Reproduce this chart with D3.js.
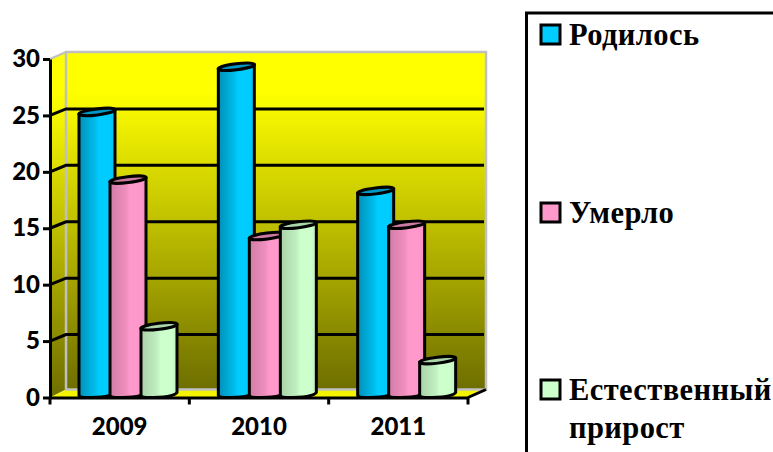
<!DOCTYPE html>
<html>
<head>
<meta charset="utf-8">
<script src="https://cdn.jsdelivr.net/npm/d3@7"></script>
<style>
  html, body { margin: 0; padding: 0; background: #fff; overflow: hidden; }
  svg { display: block; }
</style>
</head>
<body>
<svg id="chart" width="773" height="452"></svg>
<script>
const years = ['2009', '2010', '2011'];
const born = [25, 29, 18];
const died = [19, 14, 15];
const growth = [6, 15, 3];
const seriesNames = ['Родилось', 'Умерло', 'Естественный'];
const yTicks = [0, 5, 10, 15, 20, 25, 30];
const gridTicks = [5, 10, 15, 20, 25];

const seriesValues = [born, died, growth];
const barColors = [
  { id: 'blue', dark: '#0090b8', mid: '#00bdec', light: '#00ccff', cap: '#0099c4' },
  { id: 'pink', dark: '#d07ca6', mid: '#f08fbf', light: '#ff99cc', cap: '#cc7aa3' },
  { id: 'green', dark: '#a9d2a9', mid: '#c0efc0', light: '#ccffcc', cap: '#aad4aa' }
];

const svg = d3.select('#chart');
const defs = svg.append('defs');

const depthX = 16, depthY = 8;
const y = d3.scaleLinear().domain([0, 30]).range([397.5, 59]);
const x = d3.scaleBand().domain(years).range([50, 468]);
const xSeries = d3.scaleBand().domain(d3.range(3)).range([29, 122]);
const barW = 36;
const strokeW = 3;

const wallGrad = defs.append('linearGradient').attr('id', 'wall')
  .attr('x1', 0).attr('y1', 0).attr('x2', 0).attr('y2', 1);
wallGrad.append('stop').attr('offset', '0').attr('stop-color', '#ffff00');
wallGrad.append('stop').attr('offset', '0.12').attr('stop-color', '#ffff00');
wallGrad.append('stop').attr('offset', '1').attr('stop-color', '#6e6e00');

barColors.forEach(c => {
  const g = defs.append('linearGradient').attr('id', c.id);
  [[0, c.dark], [0.45, c.mid], [0.55, c.light], [0.86, c.light], [1, c.mid]].forEach(s =>
    g.append('stop').attr('offset', s[0]).attr('stop-color', s[1]));
});

// walls and floor
const xLeft = x.range()[0], xRight = x.range()[1];
const yTop = y(30), yBase = y(0);

svg.append('path')
  .attr('d', `M${xLeft},${yTop}L${xLeft + depthX},${yTop - depthY + 1}V${yBase - depthY}L${xLeft},${yBase}Z`)
  .attr('fill', 'url(#wall)');
svg.append('path')
  .attr('d', `M${xLeft},${yBase}L${xLeft + depthX},${yBase - depthY}H${xRight + depthX + 2}L${xRight},${yBase}Z`)
  .attr('fill', '#f4f400');
svg.append('rect')
  .attr('x', xLeft + depthX).attr('y', yTop - depthY + 1)
  .attr('width', xRight - xLeft + 2).attr('height', yBase - yTop - 1)
  .attr('fill', 'url(#wall)')
  .attr('stroke', '#c0c0c0').attr('stroke-width', 2.5);
svg.append('path')
  .attr('d', `M${xLeft},${yTop}L${xLeft + depthX},${yTop - depthY + 1}`)
  .attr('stroke', '#c0c0c0').attr('stroke-width', 2).attr('fill', 'none');

// gridlines
const grid = svg.append('g').attr('fill', 'none').attr('stroke', '#000').attr('stroke-width', strokeW);
gridTicks.forEach(t => {
  const gy = y(t);
  grid.append('path')
    .attr('d', `M${xLeft},${gy}L${xLeft + depthX},${gy - depthY + 1.5}H${xRight + depthX}`);
});

// axes
const axisY = svg.append('g')
  .attr('transform', `translate(${xLeft},0)`)
  .call(d3.axisLeft(y).tickValues(yTicks).tickSize(7).tickSizeOuter(0).tickPadding(3));
const axisX = svg.append('g')
  .attr('transform', `translate(0,${yBase})`)
  .call(d3.axisBottom(x).tickSize(0).tickSizeOuter(0).tickPadding(20));
[axisY, axisX].forEach(a => {
  a.selectAll('path,line').attr('stroke', '#000').attr('stroke-width', strokeW);
  a.selectAll('text')
    .attr('fill', '#000')
    .style('font-family', 'Lato, sans-serif')
    .style('font-weight', 900)
    .style('font-size', '24px');
});

// x ticks sit between the categories
const xTickPos = years.map(d => x(d)).concat(xRight);
svg.append('g').selectAll('line').data(xTickPos).join('line')
  .attr('x1', d => d).attr('x2', d => d)
  .attr('y1', yBase).attr('y2', yBase + 7)
  .attr('stroke', '#000').attr('stroke-width', strokeW);
svg.append('path')
  .attr('d', `M${xRight},${yBase}L${xRight + depthX + 2},${yBase - depthY}`)
  .attr('stroke', '#000').attr('stroke-width', strokeW).attr('fill', 'none');

// cylinders
const rows = years.flatMap((yr, i) => seriesValues.map((vals, s) => ({ yr, s, v: vals[i] })))
  .sort((a, b) => d3.ascending(a.yr, b.yr) || d3.ascending(a.s, b.s));
const bar = svg.append('g').selectAll('g').data(rows).join('g')
  .attr('stroke', '#000').attr('stroke-width', strokeW).attr('stroke-linejoin', 'round');
bar.append('path')
  .attr('fill', d => `url(#${barColors[d.s].id})`)
  .attr('d', d => {
    const l = x(d.yr) + xSeries(d.s), r = l + barW;
    return `M${l},${y(d.v) - 1.5}V${yBase - 2}Q${l + 1},${yBase} ${l + 6},${yBase}` +
      `Q${r - 3},${yBase} ${r},${yBase - 5}V${y(d.v) - 5.5}Z`;
  });
bar.append('ellipse')
  .attr('fill', d => barColors[d.s].cap)
  .attr('cx', d => x(d.yr) + xSeries(d.s) + barW / 2)
  .attr('cy', d => y(d.v) - 3.5)
  .attr('rx', barW / 2 + 0.3)
  .attr('ry', 3)
  .attr('transform', d => `rotate(-7,${x(d.yr) + xSeries(d.s) + barW / 2},${y(d.v) - 3.5})`);

// legend
svg.append('path')
  .attr('d', 'M526.5,452V13H773')
  .attr('fill', 'none').attr('stroke', '#000').attr('stroke-width', strokeW);

const legendY = d3.scaleOrdinal().domain(seriesNames).range([45, 223, 400]);
const legend = svg.append('g').selectAll('g').data(seriesNames).join('g');
legend.append('rect')
  .attr('x', 541).attr('y', d => legendY(d) - 20)
  .attr('width', 19).attr('height', 19)
  .attr('fill', (d, i) => barColors[i].light)
  .attr('stroke', '#000').attr('stroke-width', strokeW);
const legendFont = t => t
  .attr('x', 569)
  .attr('fill', '#000')
  .style('font-family', '"Liberation Serif", serif')
  .style('font-weight', 700)
  .style('font-size', '30.5px')
  .style('letter-spacing', '0.4px');
legend.append('text').attr('y', d => legendY(d)).text(d => d).call(legendFont);
svg.append('text').attr('y', 438).text('прирост').call(legendFont);
</script>
</body>
</html>
